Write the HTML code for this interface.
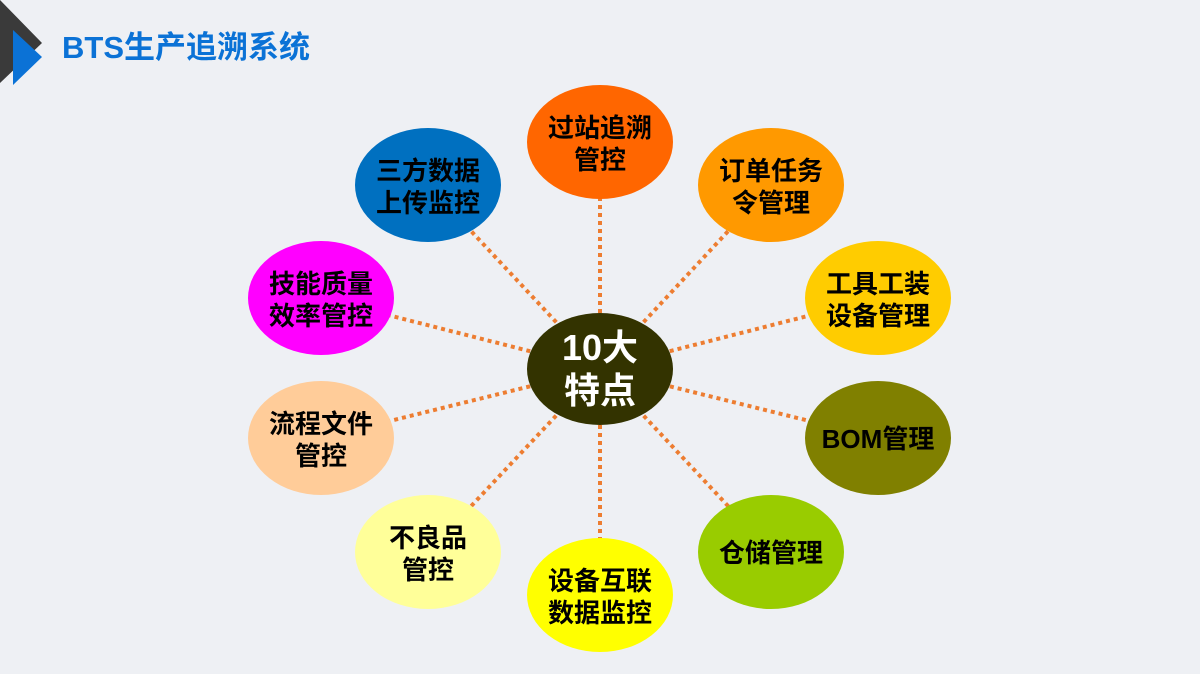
<!DOCTYPE html>
<html><head><meta charset="utf-8"><style>
body{margin:0;width:1200px;height:674px;background:#eef0f4;overflow:hidden;font-family:"Liberation Sans","Noto Sans CJK SC",sans-serif}
</style></head><body>
<svg width="1200" height="674" viewBox="0 0 1200 674" xmlns="http://www.w3.org/2000/svg" style="position:absolute;left:0;top:0">
<polygon points="0,0 42,43 0,83" fill="#3a3a3a"/>
<polygon points="13,30 42,57 13,85" fill="#0b72d6"/>
<text x="62" y="58" font-size="31" font-weight="bold" fill="#0b72d6" font-family="Liberation Sans,Noto Sans CJK SC,sans-serif">BTS生产追溯系统</text>
<g stroke="#ed7d31" stroke-width="4" stroke-dasharray="4,4">
<line x1="600" y1="369" x2="600" y2="142"/>
<line x1="600" y1="369" x2="771" y2="185"/>
<line x1="600" y1="369" x2="878" y2="298"/>
<line x1="600" y1="369" x2="878" y2="438"/>
<line x1="600" y1="369" x2="771" y2="552"/>
<line x1="600" y1="369" x2="600" y2="595"/>
<line x1="600" y1="369" x2="428" y2="552"/>
<line x1="600" y1="369" x2="321" y2="438"/>
<line x1="600" y1="369" x2="321" y2="298"/>
<line x1="600" y1="369" x2="428" y2="185"/>
</g>
<g font-family="Liberation Sans,Noto Sans CJK SC,sans-serif" font-weight="bold" font-size="26" text-anchor="middle" fill="#000">
<ellipse cx="600" cy="142" rx="73" ry="57" fill="#ff6600"/>
<text x="600" y="137">过站追溯</text><text x="600" y="169">管控</text>
<ellipse cx="771" cy="185" rx="73" ry="57" fill="#ff9900"/>
<text x="771" y="180">订单任务</text><text x="771" y="212">令管理</text>
<ellipse cx="878" cy="298" rx="73" ry="57" fill="#ffcc00"/>
<text x="878" y="293">工具工装</text><text x="878" y="325">设备管理</text>
<ellipse cx="878" cy="438" rx="73" ry="57" fill="#808000"/>
<text x="878" y="448">BOM管理</text>
<ellipse cx="771" cy="552" rx="73" ry="57" fill="#99cc00"/>
<text x="771" y="562">仓储管理</text>
<ellipse cx="600" cy="595" rx="73" ry="57" fill="#ffff00"/>
<text x="600" y="590">设备互联</text><text x="600" y="622">数据监控</text>
<ellipse cx="428" cy="552" rx="73" ry="57" fill="#ffff99"/>
<text x="428" y="547">不良品</text><text x="428" y="579">管控</text>
<ellipse cx="321" cy="438" rx="73" ry="57" fill="#ffcc99"/>
<text x="321" y="433">流程文件</text><text x="321" y="465">管控</text>
<ellipse cx="321" cy="298" rx="73" ry="57" fill="#ff00ff"/>
<text x="321" y="293">技能质量</text><text x="321" y="325">效率管控</text>
<ellipse cx="428" cy="185" rx="73" ry="57" fill="#0070c0"/>
<text x="428" y="180">三方数据</text><text x="428" y="212">上传监控</text>
<ellipse cx="600" cy="369" rx="73" ry="56" fill="#333300"/>
<text x="600" y="360" font-size="36" fill="#fff">10大</text><text x="600" y="403" font-size="36" fill="#fff">特点</text>
</g>
</svg>
</body></html>
